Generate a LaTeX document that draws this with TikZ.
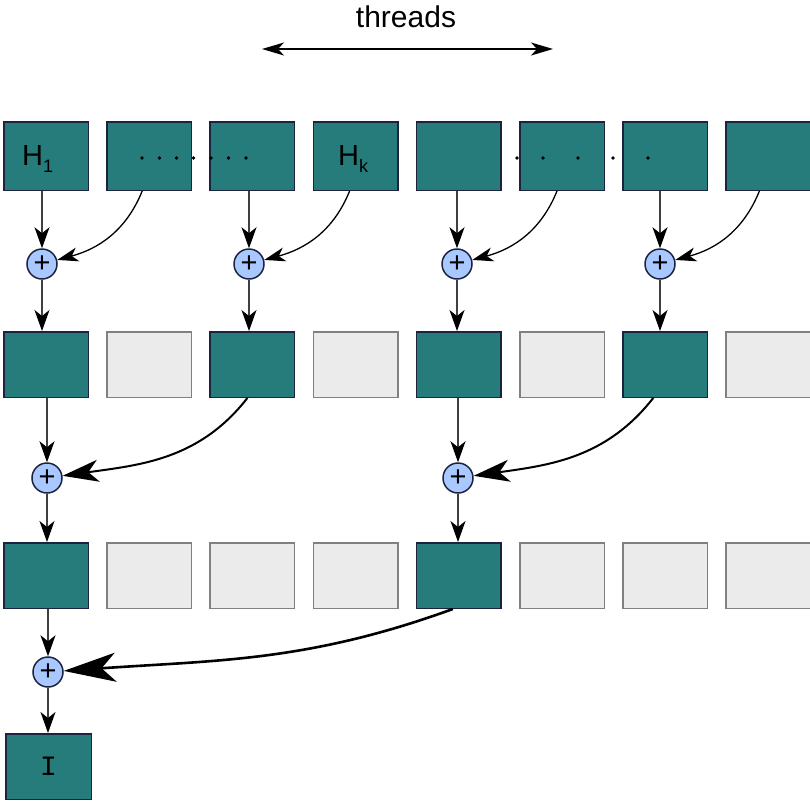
\documentclass[tikz,border=0pt]{standalone}
\usepackage{fontspec}
\setmainfont{Liberation Sans}
\setmonofont{Liberation Mono}
\usetikzlibrary{arrows.meta}
\definecolor{teal1}{HTML}{267B7B}
\definecolor{navy1}{HTML}{1C2340}
\definecolor{gfill}{HTML}{EBEBEB}
\definecolor{gline}{HTML}{808080}
\definecolor{cfill}{HTML}{A8C8FF}
\definecolor{lgray}{HTML}{404040}
\tikzset{
  tealbox/.style={draw=navy1, fill=teal1, line width=1.5pt, minimum width=84.5pt, minimum height=65.5pt, inner sep=0pt},
  graybox/.style={draw=gline, fill=gfill, line width=1.5pt, minimum width=84.5pt, minimum height=65.5pt, inner sep=0pt},
  plusnode/.style={circle, draw=navy1, fill=cfill, line width=1.5pt, minimum size=30pt, inner sep=0pt, font=\fontsize{29}{29}\selectfont},
  varrow/.style={draw=lgray, line width=1.2pt, -{Stealth[length=21pt,width=15pt,inset=6pt,color=black]}},
  curveA/.style={draw=black, line width=1.3pt, -{Stealth[length=21pt,width=14pt,inset=6pt]}},
  curveB/.style={draw=black, line width=2pt, -{Stealth[length=36pt,width=22pt,inset=10pt]}},
  curveC/.style={draw=black, line width=2.6pt, -{Stealth[length=52pt,width=29pt,inset=14pt]}},
  bigtext/.style={font=\fontsize{29}{29}\selectfont, inner sep=0pt},
}
\begin{document}
\begin{tikzpicture}[x=1pt,y=1pt]
\useasboundingbox (0,0) rectangle (810,-801);
% row 1
\foreach \i in {1,...,8}
  \node[tealbox, minimum height=68.5pt] (r1b\i) at ({46+103.2*(\i-1)},-156) {};
% row 2
\foreach \i/\s in {1/tealbox,2/graybox,3/tealbox,4/graybox,5/tealbox,6/graybox,7/tealbox,8/graybox}
  \node[\s] (r2b\i) at ({46+103.2*(\i-1)},-364.5) {};
% row 3
\foreach \i/\s in {1/tealbox,2/graybox,3/graybox,4/graybox,5/tealbox,6/graybox,7/graybox,8/graybox}
  \node[\s] (r3b\i) at ({46+103.2*(\i-1)},-575.5) {};
% result
\node[tealbox, minimum width=85.5pt] (out) at (48.5,-766.5) {\fontsize{28}{28}\selectfont\ttfamily I};
% labels
\node[bigtext, anchor=base west] (h1) at (22,-165) {H\raisebox{-7pt}{\fontsize{18}{18}\selectfont 1}};
\node[bigtext, anchor=base west] (hk) at (338,-165) {H\raisebox{-7pt}{\fontsize{18}{18}\selectfont k}};
\foreach \x in {142,159.5,176.5,193.5,211,228.5,246,517,543,578,613,648}
  \fill[black] (\x,-158) circle (1.8pt);
% threads
\node[bigtext, font=\fontsize{30}{30}\selectfont, anchor=base] (thr) at (406,-27) {threads};
\coordinate (tl) at (262,-49);
\coordinate (tr) at (553,-49);
\draw[line width=1.3pt, {Stealth[length=22pt,width=13pt,inset=6pt]}-{Stealth[length=22pt,width=13pt,inset=6pt]}] (tl) -- (tr);
% plus nodes
\node[plusnode] (c11) at (42,-264) {+};
\node[plusnode] (c12) at (249,-264) {+};
\node[plusnode] (c13) at (457,-264) {+};
\node[plusnode] (c14) at (660,-264) {+};
\node[plusnode] (c21) at (47,-478) {+};
\node[plusnode] (c22) at (458,-478) {+};
\node[plusnode] (c31) at (48,-672) {+};
% vertical arrows
\draw[varrow] (c11 |- r1b1.south) -- (c11);
\draw[varrow] (c11) -- (c11 |- r2b1.north);
\draw[varrow] (c12 |- r1b3.south) -- (c12);
\draw[varrow] (c12) -- (c12 |- r2b3.north);
\draw[varrow] (c13 |- r1b5.south) -- (c13);
\draw[varrow] (c13) -- (c13 |- r2b5.north);
\draw[varrow] (c14 |- r1b7.south) -- (c14);
\draw[varrow] (c14) -- (c14 |- r2b7.north);
\draw[varrow] (c21 |- r2b1.south) -- (c21);
\draw[varrow] (c21) -- (c21 |- r3b1.north);
\draw[varrow] (c22 |- r2b5.south) -- (c22);
\draw[varrow] (c22) -- (c22 |- r3b5.north);
\draw[varrow] (c31 |- r3b1.south) -- (c31);
\draw[varrow] (c31) -- (c31 |- out.north);
% curved arrows
\draw[curveA] ([xshift=-7pt]r1b2.south) to[out=-112,in=15] (c11);
\draw[curveA] ([xshift=-6pt]r1b4.south) to[out=-112,in=15] (c12);
\draw[curveA] ([xshift=-5pt]r1b6.south) to[out=-112,in=15] (c13);
\draw[curveA] ([xshift=-9pt]r1b8.south) to[out=-112,in=15] (c14);
\draw[curveB] ([xshift=-5pt]r2b3.south) to[out=-128,in=8] (c21);
\draw[curveB] ([xshift=-12pt]r2b7.south) to[out=-128,in=8] (c22);
\draw[curveC] ([xshift=-6pt]r3b5.south) to[out=-160,in=4] (c31);
\end{tikzpicture}
\end{document}
